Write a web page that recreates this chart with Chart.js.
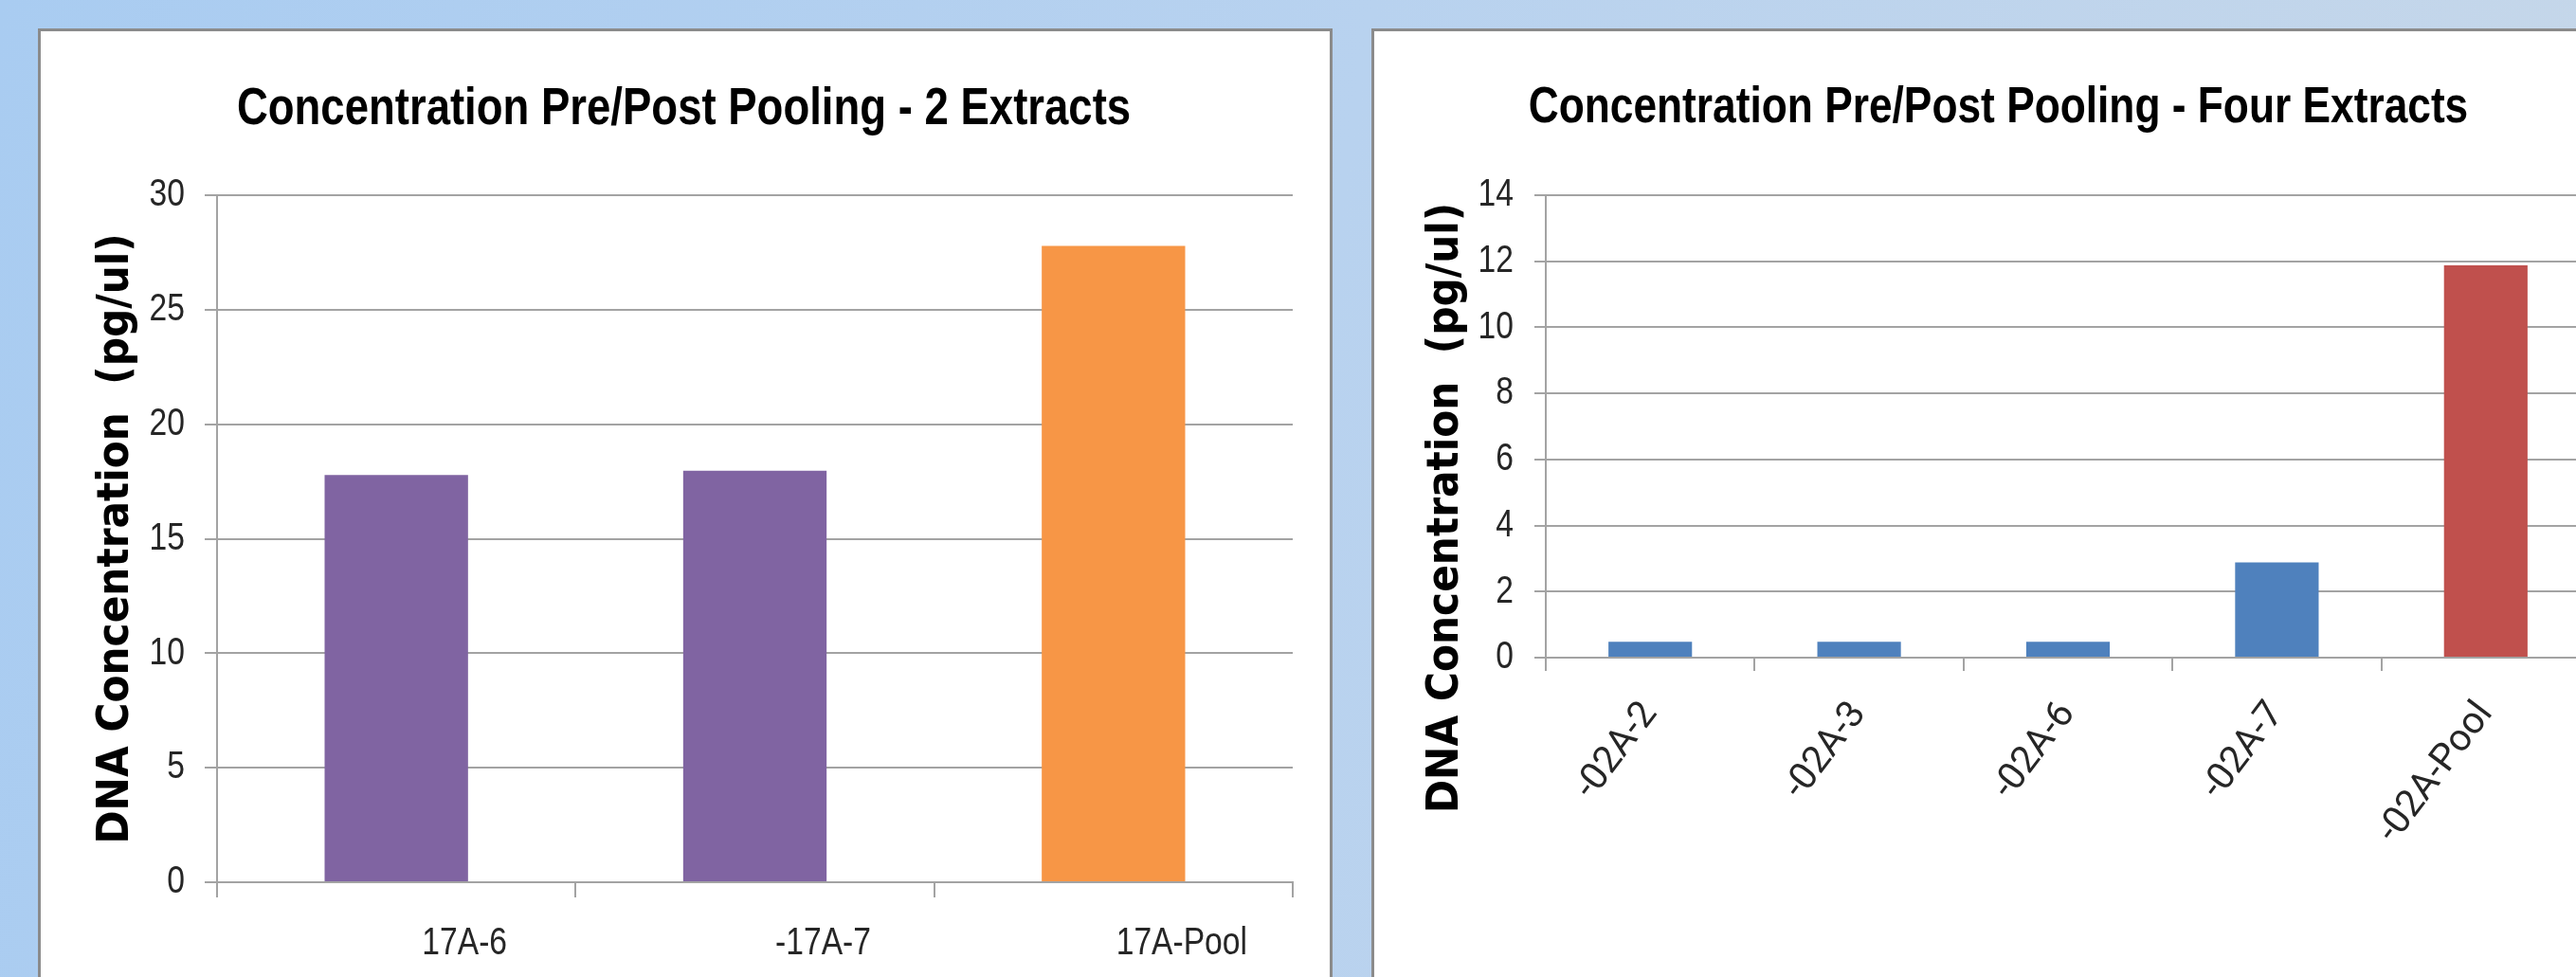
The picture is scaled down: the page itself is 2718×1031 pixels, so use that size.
<!DOCTYPE html>
<html>
<head>
<meta charset="utf-8">
<script src="https://cdn.jsdelivr.net/npm/chart.js@4.4.1/dist/chart.umd.min.js"></script>
<style>
  html, body { margin: 0; padding: 0; width: 2718px; height: 1031px; overflow: hidden; }
  body {
    position: relative;
    background: linear-gradient(100deg, #a9ccf1 0%, #b8d2ef 50%, #c6d7e9 100%);
  }
  .panel {
    position: absolute;
    background: #ffffff;
    border: 3px solid #8b8b8b;
    border-bottom: none;
    overflow: hidden;
  }
  #panelTwo { left: 40px; top: 30px; width: 1360px; height: 1010px; }
  #panelFour { left: 1447px; top: 30px; width: 1400px; height: 1010px; }
  canvas { position: absolute; left: 0; top: 0; }
</style>
</head>
<body>
<div class="panel" id="panelTwo"><canvas id="chartTwo" width="1360" height="998"></canvas></div>
<div class="panel" id="panelFour"><canvas id="chartFour" width="1316" height="998"></canvas></div>

<script>
// Two-extract pooling run
const twoExtractLabels = ['17A-6', '-17A-7', '17A-Pool'];
const twoExtractValues = [17.78, 17.97, 27.79];
const twoExtractAxis = [0, 30, 5];      // min, max, step

// Four-extract pooling run
const fourExtractLabels = ['-02A-2', '-02A-3', '-02A-6', '-02A-7', '-02A-Pool'];
const fourExtractValues = [0.48, 0.48, 0.48, 2.88, 11.88];
const fourExtractAxis = [0, 14, 2];     // min, max, step

const yTitle = 'DNA Concentration  (pg/ul)';

const palette = {
  purple: '#8064a2', orange: '#f79646', blue: '#4f81bd', red: '#c0504d',
  grid: '#a3a3a3', tick: '#262626'
};
const narrow = '"Liberation Sans", Arial, sans-serif';

// Height of the title band above the plot area (title padding + line box).
const TITLE_BAND = 173;
const TITLE_TOP = 49;

// Narrow-face emulation: text set in Liberation Sans is drawn and measured
// horizontally condensed, giving an Arial-Narrow-like look.
const NARROW_FACTOR = 0.82;
function condenseContext(ctx) {
  const fill = ctx.fillText;
  const measure = ctx.measureText;
  const factor = (c) => (c.font.indexOf('Liberation Sans') >= 0 ? NARROW_FACTOR : 1);
  ctx.fillText = function (text, x, y, maxWidth) {
    const k = factor(this);
    if (k === 1) return maxWidth === undefined ? fill.call(this, text, x, y) : fill.call(this, text, x, y, maxWidth);
    this.save();
    this.translate(x, y);
    this.scale(k, 1);
    if (maxWidth === undefined) fill.call(this, text, 0, 0);
    else fill.call(this, text, 0, 0, maxWidth / k);
    this.restore();
  };
  ctx.measureText = function (text) {
    const m = measure.call(this, text);
    const k = factor(this);
    if (k === 1) return m;
    return {
      width: m.width * k,
      actualBoundingBoxLeft: m.actualBoundingBoxLeft * k,
      actualBoundingBoxRight: m.actualBoundingBoxRight * k,
      actualBoundingBoxAscent: m.actualBoundingBoxAscent,
      actualBoundingBoxDescent: m.actualBoundingBoxDescent,
      fontBoundingBoxAscent: m.fontBoundingBoxAscent,
      fontBoundingBoxDescent: m.fontBoundingBoxDescent
    };
  };
  return ctx;
}

// Nudges the chart title sideways (opts.titleDx) and the y-axis title
// along its axis (opts.axisDy), without changing the plot layout.
const nudgeTitles = {
  id: 'nudgeTitles',
  afterLayout(chart, args, opts) {
    const block = chart.titleBlock;
    if (block && opts.titleDx && !block.__nudged) {
      const draw = block.draw;
      block.draw = function () {
        const c = this.ctx;
        c.save();
        c.translate(opts.titleDx, 0);
        draw.call(this);
        c.restore();
      };
      block.__nudged = true;
    }
    const scale = chart.scales.y;
    if (scale && opts.axisDy && !scale.__nudged) {
      const drawTitle = scale.drawTitle;
      scale.drawTitle = function () {
        this.ctx.save();
        this.ctx.translate(0, opts.axisDy);
        drawTitle.call(this);
        this.ctx.restore();
      };
      scale.__nudged = true;
    }
  }
};

function makeChart(id, cfg) {
  const [yMin, yMax, yStep] = cfg.axis;
  const ctx = condenseContext(document.getElementById(id).getContext('2d'));
  return new Chart(ctx, {
    type: 'bar',
    data: {
      labels: cfg.labels,
      datasets: [{
        data: cfg.values,
        backgroundColor: cfg.colors,
        borderWidth: 0,
        categoryPercentage: 0.8,
        barPercentage: 0.5
      }]
    },
    plugins: [nudgeTitles],
    options: {
      responsive: false,
      animation: false,
      events: [],
      layout: { padding: { left: 0, top: 0, right: cfg.padRight, bottom: 0 } },
      plugins: {
        legend: { display: false },
        tooltip: { enabled: false },
        title: {
          display: true,
          text: cfg.title,
          color: '#000000',
          font: { family: narrow, size: cfg.titleSize, weight: 'bold', lineHeight: 1.2 },
          padding: { top: TITLE_TOP, bottom: TITLE_BAND - TITLE_TOP - 1.2 * cfg.titleSize }
        },
        nudgeTitles: { titleDx: cfg.titleDx, axisDy: cfg.axisDy }
      },
      scales: {
        x: {
          offset: true,
          grid: {
            display: true, drawOnChartArea: false, drawTicks: true,
            tickLength: cfg.xTickLength, color: palette.grid, lineWidth: 2
          },
          border: { display: true, color: palette.grid, width: 2 },
          ticks: {
            autoSkip: false,
            minRotation: cfg.rotation, maxRotation: cfg.rotation,
            labelOffset: cfg.labelOffset,
            padding: cfg.xPadding,
            color: palette.tick,
            font: cfg.xFont
          },
          afterFit(s) { s.height = cfg.xHeight; }
        },
        y: {
          min: yMin, max: yMax,
          grid: { color: palette.grid, lineWidth: 2, tickLength: cfg.yTickLength, drawTicks: true },
          border: { display: true, color: palette.grid, width: 2 },
          ticks: {
            stepSize: yStep,
            padding: cfg.yPadding,
            color: palette.tick,
            font: { family: narrow, size: 41 }
          },
          title: {
            display: true,
            text: yTitle,
            color: '#000000',
            font: { family: '"DejaVu Sans Condensed", "DejaVu Sans", sans-serif', size: 47, weight: 'bold', lineHeight: 1.2 },
            padding: { top: cfg.yTitlePad, bottom: 0 }
          },
          afterFit(s) { s.width = cfg.yWidth; }
        }
      }
    }
  });
}

makeChart('chartTwo', {
  title: 'Concentration Pre/Post Pooling - 2 Extracts',
  titleSize: 55.5,
  labels: twoExtractLabels,
  values: twoExtractValues,
  axis: twoExtractAxis,
  colors: [palette.purple, palette.purple, palette.orange],
  padRight: 39,
  xHeight: 100,
  yWidth: 186,
  yTitlePad: 52,
  xTickLength: 16,
  yTickLength: 13,
  yPadding: 21,
  xPadding: 24,
  rotation: 0,
  labelOffset: 72,
  xFont: { family: narrow, size: 41 },
  titleDx: 18,
  axisDy: 0
});

makeChart('chartFour', {
  title: 'Concentration Pre/Post Pooling - Four Extracts',
  titleSize: 54,
  labels: fourExtractLabels,
  values: fourExtractValues,
  axis: fourExtractAxis,
  colors: [palette.blue, palette.blue, palette.blue, palette.blue, palette.red],
  padRight: 33,
  xHeight: 337,
  yWidth: 181,
  yTitlePad: 48,
  xTickLength: 14,
  yTickLength: 12,
  yPadding: 22,
  xPadding: 24,
  rotation: 53,
  labelOffset: 0,
  xFont: { family: 'Roboto, sans-serif', size: 40 },
  titleDx: 17,
  axisDy: 86
});
</script>
</body>
</html>
